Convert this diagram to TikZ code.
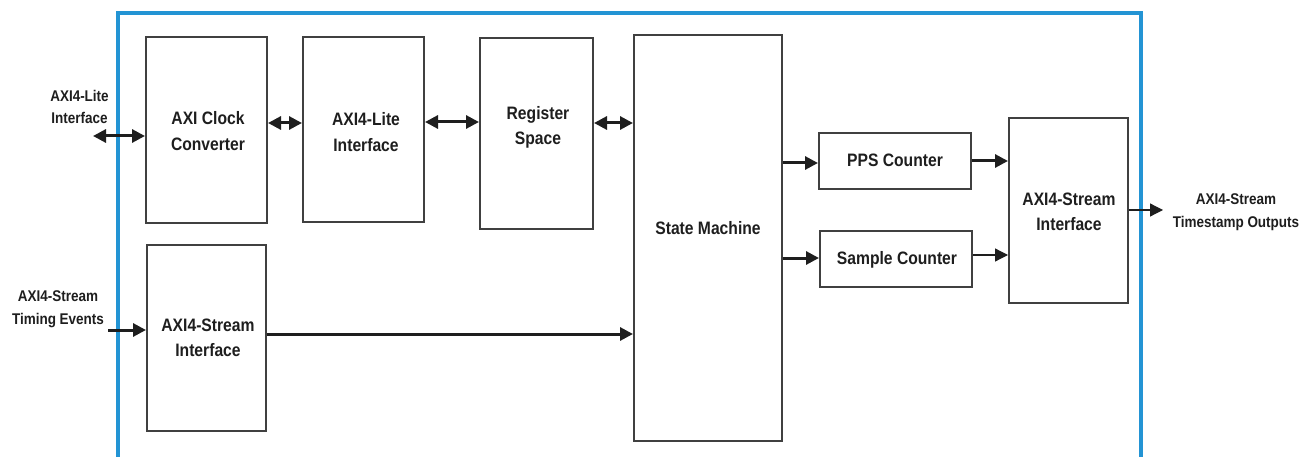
\documentclass[tikz,border=0pt]{standalone}
\usepackage{fontspec}
\setmainfont{Liberation Sans}[FakeStretch=0.87]
\usetikzlibrary{arrows.meta,calc}
\definecolor{frameblue}{RGB}{35,148,212}
\definecolor{ink}{RGB}{30,30,30}
\begin{document}
\begin{tikzpicture}[x=1pt,y=-1pt,
  blk/.style={draw=ink!85, line width=2pt, inner sep=0pt},
  txt/.style={font=\bfseries\fontsize{18}{25.5}\selectfont, text=ink, align=center, inner sep=0pt},
  lbl/.style={font=\bfseries\fontsize{15.5}{22.5}\selectfont, text=ink, align=center, inner sep=0pt},
  tip/.tip={Triangle[length=13pt,width=13pt]},
  conn/.style={draw=ink, line width=3pt, -tip},
  bconn/.style={draw=ink, line width=3pt, tip-tip},
  thinconn/.style={draw=ink, line width=1.2pt, -tip}]
\useasboundingbox (0,0) rectangle (1309,457);
\fill[white] (0,0) rectangle (1309,457);
% frame
\draw[frameblue, line width=4pt] (118,462) -- (118,13) -- (1141,13) -- (1141,462);
% blocks
\node[blk, minimum width=121, minimum height=186] (acc) at (206.5,130) {};
\node[blk, minimum width=121, minimum height=185] (lite) at (363.5,129.5) {};
\node[blk, minimum width=113, minimum height=191] (rs) at (536.5,133.5) {};
\node[blk, minimum width=148, minimum height=406] (sm) at (708,238) {};
\node[blk, minimum width=152, minimum height=56] (pps) at (895,161) {};
\node[blk, minimum width=152, minimum height=56] (smp) at (896,259) {};
\node[blk, minimum width=119, minimum height=185] (asr) at (1068.5,210.5) {};
\node[blk, minimum width=119, minimum height=186] (asl) at (206.5,338) {};
% block texts
\node[txt] (accT) at (208,131) {AXI Clock\\Converter};
\node[txt] (liteT) at (366,132) {AXI4-Lite\\Interface};
\node[txt] (rsT) at (538,127.5) {Register\\Space};
\node[txt] (smT) at (708,228) {State Machine};
\node[txt] (ppsT) at (895,160) {PPS Counter};
\node[txt] (smpT) at (897,260) {Sample Counter};
\node[txt] (asrT) at (1069,212) {AXI4-Stream\\Interface};
\node[txt] (aslT) at (208,338) {AXI4-Stream\\Interface};
% outside labels
\node[lbl] (l1) at (79.5,107) {AXI4-Lite\\Interface};
\node[lbl] (l2) at (58,309) {AXI4-Stream\\Timing Events};
\node[lbl] (l3) at (1236,212) {AXI4-Stream\\Timestamp Outputs};
% connectors
\coordinate (litein) at (93,136);
\draw[bconn] (litein) -- (acc.west |- litein);
\draw[bconn] (acc.east |- 0,123) -- (lite.west |- 0,123);
\draw[bconn] (lite.east |- 0,122) -- (rs.west |- 0,122);
\draw[bconn] (rs.east |- 0,123) -- (sm.west |- 0,123);
\draw[conn] (sm.east |- 0,163) -- (pps.west |- 0,163);
\draw[conn] (sm.east |- 0,258) -- (smp.west |- 0,258);
\draw[conn] (pps.east |- 0,161) -- (asr.west |- 0,161);
\draw[thinconn] (smp.east |- 0,255) -- (asr.west |- 0,255);
\coordinate (tsout) at (1163,210);
\draw[thinconn] (asr.east |- tsout) -- (tsout);
\coordinate (tein) at (108,330);
\draw[conn] (tein) -- (asl.west |- tein);
\draw[conn] (asl.east |- 0,334) -- (sm.west |- 0,334);
\end{tikzpicture}
\end{document}
